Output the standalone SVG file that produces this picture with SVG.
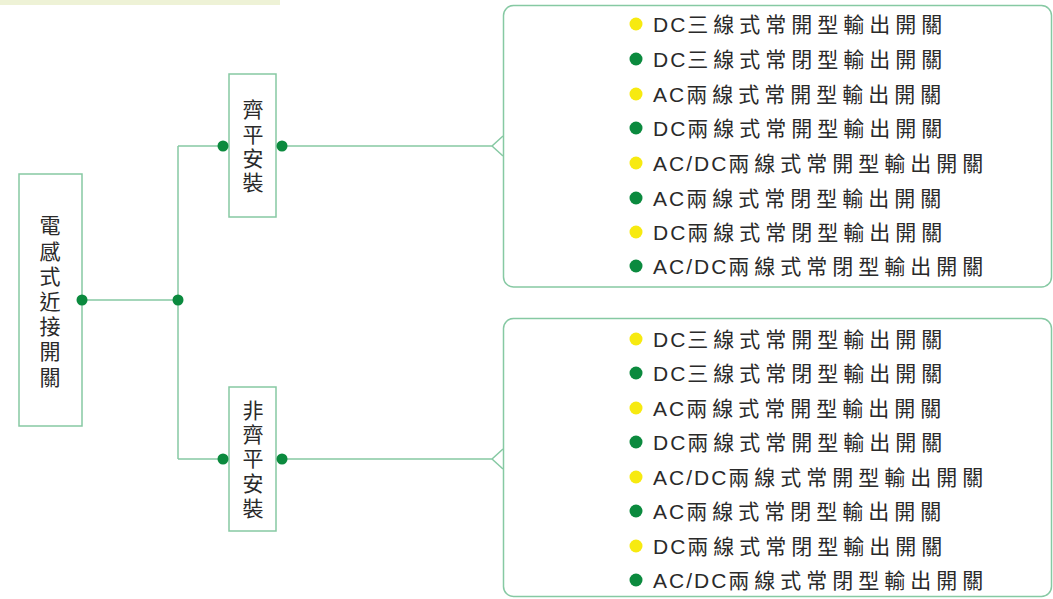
<svg xmlns="http://www.w3.org/2000/svg" width="1053" height="599" viewBox="0 0 1053 599">
<defs>
<style>
.box{fill:#fff;stroke:#86c9a3;stroke-width:1.5}
.ln{fill:none;stroke:#86c9a3;stroke-width:1.5}
.dot{fill:#0b8a3e}
.yel{fill:#f7ea10}
.v{font-family:"Liberation Sans","Noto Sans CJK TC",sans-serif;font-size:21px;fill:#2a2a2a;text-anchor:middle;dominant-baseline:central}
.it{font-family:"Liberation Sans","Noto Sans CJK TC",sans-serif;font-size:21px;fill:#2a2a2a;dominant-baseline:central}
.l{letter-spacing:2px}
.c{letter-spacing:5px}
</style>
</defs>
<rect width="1053" height="599" fill="#fff"/>
<rect x="0" y="0" width="280" height="5" fill="#eef2d6"/>
<g id="root">
<rect class="box" x="19" y="174" width="63" height="252"/>
<text class="v"><tspan x="50" y="225">電</tspan><tspan x="50" y="251">感</tspan><tspan x="50" y="276">式</tspan><tspan x="50" y="301">近</tspan><tspan x="50" y="326">接</tspan><tspan x="50" y="351">開</tspan><tspan x="50" y="377">關</tspan></text>
</g>
<g id="flush">
<rect class="box" x="229" y="74" width="47" height="143"/>
<text class="v"><tspan x="253" y="109">齊</tspan><tspan x="253" y="134">平</tspan><tspan x="253" y="158">安</tspan><tspan x="253" y="182">裝</tspan></text>
</g>
<g id="nonflush">
<rect class="box" x="229" y="387" width="47" height="144"/>
<text class="v"><tspan x="253" y="410">非</tspan><tspan x="253" y="434">齊</tspan><tspan x="253" y="458">平</tspan><tspan x="253" y="483">安</tspan><tspan x="253" y="508">裝</tspan></text>
</g>
<g id="list-flush">
<rect class="box" x="503.5" y="5.5" width="548" height="281.5" rx="10"/>
<circle class="yel" cx="636" cy="24" r="6.5"/><text class="it" x="653" y="24"><tspan class="l">DC</tspan><tspan class="c">三線式常開型輸出開關</tspan></text>
<circle class="dot" cx="636" cy="59" r="6.5"/><text class="it" x="653" y="59"><tspan class="l">DC</tspan><tspan class="c">三線式常閉型輸出開關</tspan></text>
<circle class="yel" cx="636" cy="94" r="6.5"/><text class="it" x="653" y="94"><tspan class="l">AC</tspan><tspan class="c">兩線式常開型輸出開關</tspan></text>
<circle class="dot" cx="636" cy="128" r="6.5"/><text class="it" x="653" y="128"><tspan class="l">DC</tspan><tspan class="c">兩線式常開型輸出開關</tspan></text>
<circle class="yel" cx="636" cy="163" r="6.5"/><text class="it" x="653" y="163"><tspan class="l">AC/DC</tspan><tspan class="c">兩線式常開型輸出開關</tspan></text>
<circle class="dot" cx="636" cy="198" r="6.5"/><text class="it" x="653" y="198"><tspan class="l">AC</tspan><tspan class="c">兩線式常閉型輸出開關</tspan></text>
<circle class="yel" cx="636" cy="232" r="6.5"/><text class="it" x="653" y="232"><tspan class="l">DC</tspan><tspan class="c">兩線式常閉型輸出開關</tspan></text>
<circle class="dot" cx="636" cy="266" r="6.5"/><text class="it" x="653" y="266"><tspan class="l">AC/DC</tspan><tspan class="c">兩線式常閉型輸出開關</tspan></text>
</g>
<g id="list-nonflush">
<rect class="box" x="503.5" y="318.5" width="548" height="278" rx="10"/>
<circle class="yel" cx="636" cy="339" r="6.5"/><text class="it" x="653" y="339"><tspan class="l">DC</tspan><tspan class="c">三線式常開型輸出開關</tspan></text>
<circle class="dot" cx="636" cy="373" r="6.5"/><text class="it" x="653" y="373"><tspan class="l">DC</tspan><tspan class="c">三線式常閉型輸出開關</tspan></text>
<circle class="yel" cx="636" cy="408" r="6.5"/><text class="it" x="653" y="408"><tspan class="l">AC</tspan><tspan class="c">兩線式常開型輸出開關</tspan></text>
<circle class="dot" cx="636" cy="442" r="6.5"/><text class="it" x="653" y="442"><tspan class="l">DC</tspan><tspan class="c">兩線式常開型輸出開關</tspan></text>
<circle class="yel" cx="636" cy="477" r="6.5"/><text class="it" x="653" y="477"><tspan class="l">AC/DC</tspan><tspan class="c">兩線式常開型輸出開關</tspan></text>
<circle class="dot" cx="636" cy="511" r="6.5"/><text class="it" x="653" y="511"><tspan class="l">AC</tspan><tspan class="c">兩線式常閉型輸出開關</tspan></text>
<circle class="yel" cx="636" cy="546" r="6.5"/><text class="it" x="653" y="546"><tspan class="l">DC</tspan><tspan class="c">兩線式常閉型輸出開關</tspan></text>
<circle class="dot" cx="636" cy="580" r="6.5"/><text class="it" x="653" y="580"><tspan class="l">AC/DC</tspan><tspan class="c">兩線式常閉型輸出開關</tspan></text>
</g>
<g id="connectors">
<line class="ln" x1="82" y1="300" x2="178" y2="300"/>
<line class="ln" x1="178" y1="146" x2="178" y2="459"/>
<line class="ln" x1="178" y1="146" x2="222" y2="146"/>
<line class="ln" x1="178" y1="459" x2="222" y2="459"/>
<polyline class="ln" points="282,146 492,146 503,136"/>
<line class="ln" x1="492" y1="146" x2="503" y2="156"/>
<polyline class="ln" points="282,459 492,459 503,449"/>
<line class="ln" x1="492" y1="459" x2="503" y2="469"/>
<circle class="dot" cx="82" cy="300" r="5.5"/>
<circle class="dot" cx="178" cy="300" r="5.5"/>
<circle class="dot" cx="223" cy="146" r="5.5"/>
<circle class="dot" cx="282" cy="146" r="5.5"/>
<circle class="dot" cx="223" cy="459" r="5.5"/>
<circle class="dot" cx="282" cy="459" r="5.5"/>
</g>
</svg>
